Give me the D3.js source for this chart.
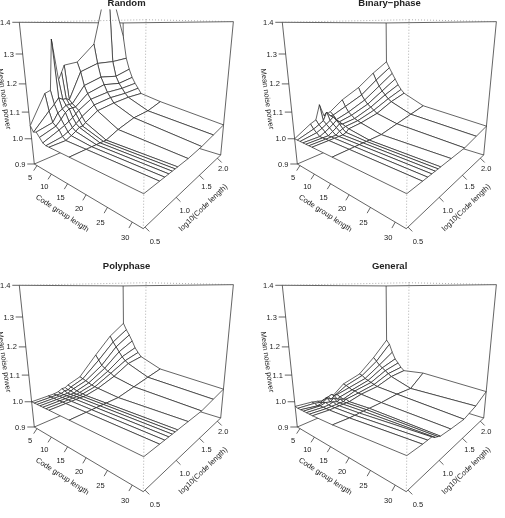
<!DOCTYPE html>
<html>
<head>
<meta charset="utf-8">
<script src="https://cdnjs.cloudflare.com/ajax/libs/d3/7.8.5/d3.min.js"></script>
<style>
  html, body { margin: 0; background: #fff; }
  svg { display: block; will-change: transform; }
  text { font-family: "Liberation Sans", sans-serif; fill: #222; }
</style>
</head>
<body>
<svg id="chart" width="505" height="518"></svg>
<script>
'use strict'

const codeGroupLengths = [4, 5, 6, 7, 8, 9, 10, 16, 32]
const codeLengths = [3, 5, 6, 7, 8, 9, 10, 16, 32, 64, 128]
const xTicks = [5, 10, 15, 20, 25, 30]
const yTicks = [0.5, 1.0, 1.5, 2.0]
const zTicks = [0.9, 1.0, 1.1, 1.2, 1.3, 1.4]
const titles = ['Random', 'Binary\u2212phase', 'Polyphase', 'General']

// rows follow codeGroupLengths, columns follow codeLengths
const randomNoise = [
  [1.05, 1.153, 1.16, 1.343, 1.193, 1.22, 1.245, 1.25, 1.315, 1.58, 1.34],
  [1.03, 1.09, 1.11, 1.13, 1.12, 1.12, 1.112, 1.213, 1.236, 1.234, 1.24],
  [1.035, 1.05, 1.08, 1.09, 1.10, 1.10, 1.10, 1.16, 1.18, 1.17, 1.19],
  [1.02, 1.04, 1.06, 1.08, 1.09, 1.09, 1.09, 1.13, 1.15, 1.14, 1.153],
  [1.005, 1.03, 1.04, 1.05, 1.06, 1.07, 1.08, 1.11, 1.12, 1.12, 1.127],
  [1.00, 1.01, 1.02, 1.03, 1.04, 1.05, 1.06, 1.09, 1.10, 1.10, 1.106],
  [1.00, 1.00, 1.01, 1.02, 1.03, 1.03, 1.04, 1.07, 1.08, 1.085, 1.084],
  [1.00, 1.00, 1.00, 1.00, 1.00, 1.00, 1.00, 1.02, 1.04, 1.045, 1.064],
  [1.00, 1.00, 1.00, 1.00, 1.00, 1.00, 1.00, 1.00, 1.005, 1.015, 1.025]
]
const binaryNoise = [
  [1.00, 1.036, 1.045, 1.10, 1.05, 1.056, 1.06, 1.095, 1.13, 1.18, 1.222],
  [1.00, 1.02, 1.03, 1.04, 1.07, 1.05, 1.05, 1.07, 1.10, 1.15, 1.195],
  [1.00, 1.01, 1.02, 1.03, 1.04, 1.05, 1.035, 1.05, 1.08, 1.125, 1.17],
  [1.00, 1.00, 1.01, 1.02, 1.03, 1.04, 1.03, 1.04, 1.065, 1.105, 1.145],
  [1.00, 1.00, 1.00, 1.01, 1.02, 1.03, 1.025, 1.03, 1.055, 1.09, 1.12],
  [1.00, 1.00, 1.00, 1.00, 1.01, 1.015, 1.02, 1.025, 1.045, 1.075, 1.10],
  [1.00, 1.00, 1.00, 1.00, 1.00, 1.005, 1.015, 1.02, 1.035, 1.065, 1.085],
  [1.00, 1.00, 1.00, 1.00, 1.00, 1.00, 1.00, 1.00, 1.015, 1.03, 1.045],
  [1.00, 1.00, 1.00, 1.00, 1.00, 1.00, 1.00, 1.00, 1.00, 1.01, 1.02]
]
const polyphaseNoise = [
  [1.00, 1.00, 1.00, 1.003, 1.01, 1.01, 1.017, 1.035, 1.11, 1.18, 1.229],
  [1.00, 1.00, 1.00, 1.00, 1.005, 1.005, 1.012, 1.03, 1.09, 1.155, 1.20],
  [1.00, 1.00, 1.00, 1.00, 1.00, 1.005, 1.01, 1.025, 1.07, 1.135, 1.177],
  [1.00, 1.00, 1.00, 1.00, 1.00, 1.00, 1.005, 1.02, 1.06, 1.115, 1.15],
  [1.00, 1.00, 1.00, 1.00, 1.00, 1.00, 1.003, 1.015, 1.05, 1.095, 1.12],
  [1.00, 1.00, 1.00, 1.00, 1.00, 1.00, 1.002, 1.012, 1.045, 1.08, 1.10],
  [1.00, 1.00, 1.00, 1.00, 1.00, 1.00, 1.00, 1.01, 1.035, 1.07, 1.083],
  [1.00, 1.00, 1.00, 1.00, 1.00, 1.00, 1.00, 1.00, 1.015, 1.03, 1.044],
  [1.00, 1.00, 1.00, 1.00, 1.00, 1.00, 1.00, 1.00, 1.00, 1.01, 1.02]
]
const generalNoise = [
  [0.982, 0.975, 0.97, 0.965, 0.97, 0.96, 0.965, 1.003, 1.023, 1.08, 1.148],
  [0.98, 0.975, 0.97, 0.975, 0.98, 0.985, 0.975, 1.00, 1.02, 1.065, 1.13],
  [0.98, 0.97, 0.975, 0.985, 0.975, 0.985, 0.985, 0.995, 1.01, 1.05, 1.093],
  [0.98, 0.975, 0.98, 0.975, 0.985, 0.975, 0.98, 0.99, 1.005, 1.04, 1.063],
  [0.98, 0.975, 0.975, 0.98, 0.975, 0.98, 0.975, 0.99, 1.00, 1.03, 1.046],
  [0.98, 0.975, 0.975, 0.975, 0.975, 0.975, 0.98, 0.985, 0.995, 1.02, 1.028],
  [0.98, 0.975, 0.975, 0.975, 0.975, 0.975, 0.975, 0.985, 0.99, 1.01, 1.015],
  [0.984, 0.98, 0.98, 0.98, 0.98, 0.98, 0.98, 0.98, 0.984, 0.98, 1.025],
  [1.003, 1.00, 1.00, 1.00, 0.99, 0.985, 0.98, 0.975, 0.97, 0.984, 1.01]
]
const panels = [randomNoise, binaryNoise, polyphaseNoise, generalNoise]

// projective view of the unit box, anchored on the floor corners of the first panel
const view = {
  left: [34.3, 164], front: [143.3, 228.7], back: [124, 125.3], right: [220.7, 155],
  topLeft: [19.3, 22.3], gamma: 0.867
}
const panelStep = 263

const uScale = d3.scaleLinear()
  .domain(d3.extent(codeGroupLengths))
  .range([0, 1])
const vScale = d3.scaleLinear()
  .domain(d3.extent(codeLengths, d => Math.log10(d)))
  .range([0, 1])
const wScale = d3.scaleLinear()
  .domain([0.9, 1.4])
  .range([0, 1])

function solveFloorWeights() {
  const {left, front, back, right} = view
  const a = front[0] - right[0], b = back[0] - right[0], c = left[0] - right[0]
  const d = front[1] - right[1], e = back[1] - right[1], f = left[1] - right[1]
  const det = a * e - b * d
  return [(c * e - b * f) / det, (a * f - c * d) / det]
}
const [alpha, beta] = solveFloorWeights()

function project(u, v, w) {
  const {left, front, back, topLeft, gamma} = view
  const den = 1 + u * (alpha - 1) + v * (beta - 1) + w * (gamma - 1)
  return [0, 1].map(k => (left[k]
    + u * (alpha * front[k] - left[k])
    + v * (beta * back[k] - left[k])
    + w * (gamma * topLeft[k] - left[k])) / den)
}

const line = d3.line()
const svg = d3.select('#chart')

svg.append('defs').append('clipPath')
  .attr('id', 'plotClip')
  .append('rect')
  .attr('x', -10)
  .attr('y', 9.5)
  .attr('width', 260)
  .attr('height', 250)

function edge(g, a, b, dotted) {
  g.append('path')
    .attr('d', line([project(...a), project(...b)]))
    .attr('fill', 'none')
    .attr('stroke', dotted ? '#777' : '#222')
    .attr('stroke-width', dotted ? 0.6 : 0.7)
    .attr('stroke-dasharray', dotted ? '1,2' : null)
}

function drawSurface(g, noise) {
  const cells = []
  // far corner first so nearer cells paint over it
  d3.range(codeGroupLengths.length - 1).forEach(i => {
    d3.range(codeLengths.length - 2, -1, -1).forEach(j => {
      cells.push([[i, j], [i + 1, j], [i + 1, j + 1], [i, j + 1]])
    })
  })
  g.append('g')
    .attr('clip-path', 'url(#plotClip)')
    .selectAll('path')
    .data(cells)
    .enter().append('path')
    .attr('d', cell => line(cell.map(([i, j]) => project(
      uScale(codeGroupLengths[i]),
      vScale(Math.log10(codeLengths[j])),
      wScale(noise[i][j])
    ))) + 'Z')
    .attr('fill', '#fff')
    .attr('stroke', '#222')
    .attr('stroke-width', 0.7)
    .attr('stroke-linejoin', 'round')
}

function tick(g, base, dx, dy, lx, ly, label) {
  g.append('line')
    .attr('x1', base[0]).attr('y1', base[1])
    .attr('x2', base[0] + dx).attr('y2', base[1] + dy)
    .attr('stroke', '#222')
    .attr('stroke-width', 0.7)
  g.append('text')
    .attr('x', base[0] + lx)
    .attr('y', base[1] + ly)
    .attr('text-anchor', 'middle')
    .attr('dominant-baseline', 'central')
    .attr('font-size', 7.5)
    .text(label)
}

function axisTitle(g, transform, label) {
  g.append('text')
    .attr('transform', transform)
    .attr('text-anchor', 'middle')
    .attr('dominant-baseline', 'central')
    .attr('font-size', 7.5)
    .text(label)
}

function drawAxes(g) {
  xTicks.forEach(t => {
    const u = uScale(t)
    tick(g, project(u, 0, 0), -3.3, 5 + u, -7, 12 + 3.5 * u, t)
  })
  yTicks.forEach(t => {
    const v = vScale(t)
    tick(g, project(1, v, 0), 4.3, 4.3, 10 - 4.5 * v, 14.7 - 5 * v, t.toFixed(1))
  })
  zTicks.forEach(t => tick(g, project(0, 0, wScale(t)), -7, 0, -14, 0, t.toFixed(1)))

  axisTitle(g, 'translate(62.5,213) rotate(33)', 'Code group length')
  axisTitle(g, 'translate(203,207.5) rotate(-44)', 'log10(Code length)')
  axisTitle(g, 'translate(4.5,99) rotate(82)', 'Mean noise power')
}

panels.forEach((noise, idx) => {
  const g = svg.append('g')
    .attr('transform', `translate(${(idx % 2) * panelStep},${Math.floor(idx / 2) * panelStep})`)

  g.append('text')
    .attr('x', 126.6)
    .attr('y', 2)
    .attr('text-anchor', 'middle')
    .attr('dominant-baseline', 'central')
    .attr('font-size', 9.5)
    .attr('font-weight', 'bold')
    .text(titles[idx])

  // back faces, then the surface, then the front faces
  edge(g, [0, 0, 0], [0, 1, 0])
  edge(g, [0, 1, 0], [1, 1, 0])
  edge(g, [0, 1, 0], [0, 1, 1])
  edge(g, [0, 0, 1], [0, 1, 1])
  edge(g, [0, 1, 1], [1, 1, 1])
  edge(g, [0, 0, 0], [0, 0, 1])
  edge(g, [1, 1, 0], [1, 1, 1])

  drawSurface(g, noise)

  edge(g, [0, 0, 0], [1, 0, 0])
  edge(g, [1, 0, 0], [1, 1, 0])
  edge(g, [1, 0, 0], [1, 0, 1], true)
  edge(g, [0, 0, 1], [1, 0, 1], true)
  edge(g, [1, 0, 1], [1, 1, 1], true)

  drawAxes(g)
})
</script>
</body>
</html>
